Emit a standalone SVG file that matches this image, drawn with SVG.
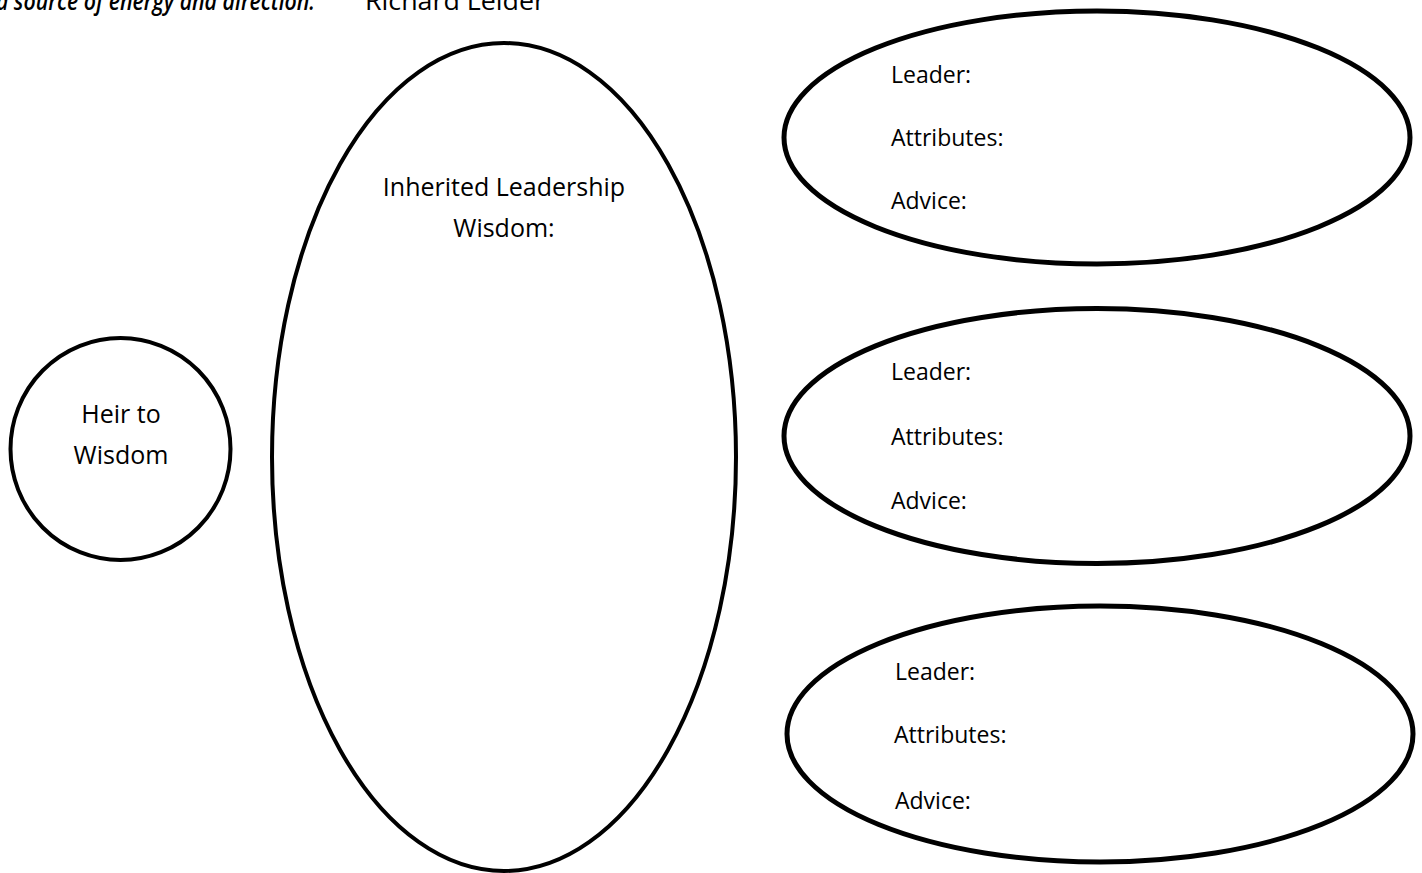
<svg xmlns="http://www.w3.org/2000/svg" width="1422" height="873" viewBox="0 0 1422 873">
<style>
  .shape { fill: #ffffff; stroke: #000000; }
  .t { font-family: "Open Sans", "Noto Sans", sans-serif; font-size: 25px; fill: #000000; }
  .s { font-family: "Open Sans", "Noto Sans", sans-serif; font-size: 23px; fill: #000000; }
  .c { text-anchor: middle; }
</style>
<rect x="0" y="0" width="1422" height="873" fill="#ffffff"/>
<g id="quote">
  <text class="t" x="-4" y="10" font-style="italic" font-weight="600" textLength="319" lengthAdjust="spacingAndGlyphs">a source of energy and direction.</text>
  <text class="t" x="365" y="10" textLength="180" lengthAdjust="spacingAndGlyphs">Richard Leider</text>
</g>
<g id="connectors"></g>
<g id="heir">
  <ellipse class="shape" cx="120.5" cy="449" rx="110" ry="111" stroke-width="4"/>
  <text class="t c" x="121" y="423">Heir to</text>
  <text class="t c" x="121" y="464">Wisdom</text>
</g>
<g id="inherited">
  <ellipse class="shape" cx="504" cy="457" rx="232" ry="414" stroke-width="4"/>
  <text class="t c" x="504" y="196">Inherited Leadership</text>
  <text class="t c" x="504" y="237">Wisdom:</text>
</g>
<g id="leader1">
  <ellipse class="shape" cx="1097" cy="137.5" rx="313" ry="126.5" stroke-width="5"/>
  <text class="s" x="891" y="83">Leader:</text>
  <text class="s" x="891" y="146">Attributes:</text>
  <text class="s" x="891" y="209">Advice:</text>
</g>
<g id="leader2">
  <ellipse class="shape" cx="1097" cy="436" rx="313" ry="127.5" stroke-width="5"/>
  <text class="s" x="891" y="380">Leader:</text>
  <text class="s" x="891" y="445">Attributes:</text>
  <text class="s" x="891" y="509">Advice:</text>
</g>
<g id="leader3">
  <ellipse class="shape" cx="1100" cy="734" rx="313" ry="128" stroke-width="5"/>
  <text class="s" x="895" y="680">Leader:</text>
  <text class="s" x="894" y="743">Attributes:</text>
  <text class="s" x="895" y="809">Advice:</text>
</g>
</svg>
